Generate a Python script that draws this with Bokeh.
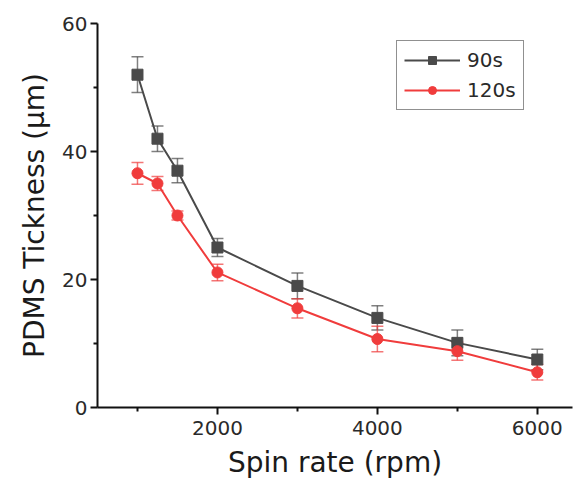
from bokeh.plotting import figure
from bokeh.models import ColumnDataSource, Whisker, TeeHead, Legend, LegendItem, FixedTicker, Range1d
from bokeh.embed import file_html
from bokeh.resources import INLINE

# Spin coating data: film thickness vs spin rate
spin_rate = [1000, 1250, 1500, 2000, 3000, 4000, 5000, 6000]
thick_90s = [52.0, 42.0, 37.0, 25.0, 19.0, 14.0, 10.1, 7.5]
err_90s = [2.8, 2.0, 1.9, 1.4, 2.0, 1.9, 2.0, 1.6]
thick_120s = [36.6, 35.0, 30.0, 21.1, 15.5, 10.7, 8.8, 5.5]
err_120s = [1.7, 1.1, 0.7, 1.3, 1.5, 2.0, 1.4, 1.2]

x_ticks = [2000, 4000, 6000]
x_minor = [1000, 3000, 5000]
y_ticks = [0, 20, 40, 60]
y_minor = [10, 30, 50]

GRAY = "#4a4a4a"
RED = "#f03c3c"
FONT = "DejaVu Sans"
TEXT = "#2a2a2a"

p = figure(width=574, height=484, output_backend="svg", toolbar_location=None,
           x_range=Range1d(500, 6440), y_range=Range1d(0, 60),
           min_border_left=97, min_border_right=2, min_border_top=23, min_border_bottom=77)
p.outline_line_color = None
p.grid.visible = False

src90 = ColumnDataSource(dict(x=spin_rate, y=thick_90s,
                              lo=[v - e for v, e in zip(thick_90s, err_90s)],
                              hi=[v + e for v, e in zip(thick_90s, err_90s)]))
src120 = ColumnDataSource(dict(x=spin_rate, y=thick_120s,
                               lo=[v - e for v, e in zip(thick_120s, err_120s)],
                               hi=[v + e for v, e in zip(thick_120s, err_120s)]))

for src, col in ((src90, GRAY), (src120, RED)):
    w = Whisker(source=src, base="x", lower="lo", upper="hi",
                line_color=col, line_alpha=0.7, line_width=1.5,
                upper_head=TeeHead(size=12, line_color=col, line_alpha=0.7, line_width=1.5),
                lower_head=TeeHead(size=12, line_color=col, line_alpha=0.7, line_width=1.5))
    p.add_layout(w)

l90 = p.line("x", "y", source=src90, line_color=GRAY, line_width=2)
m90 = p.scatter("x", "y", source=src90, marker="square", size=11, fill_color=GRAY, line_color=GRAY)
l120 = p.line("x", "y", source=src120, line_color=RED, line_width=2)
m120 = p.scatter("x", "y", source=src120, marker="circle", size=11, fill_color=RED, line_color=RED)

legend = Legend(items=[LegendItem(label="90s", renderers=[l90, m90]),
                       LegendItem(label="120s", renderers=[l120, m120])],
                location=(299, 297), label_text_font=FONT, label_text_font_size="20px",
                label_text_color=TEXT,
                glyph_width=56, glyph_height=20, spacing=6, padding=7, margin=0,
                border_line_color="#222222", border_line_width=1.2,
                background_fill_alpha=1.0, label_standoff=7)
p.add_layout(legend)

for ax in (p.xaxis[0], p.yaxis[0]):
    ax.axis_line_width = 2
    ax.axis_line_color = "#111111"
    ax.major_tick_line_width = 2
    ax.minor_tick_line_width = 2
    ax.major_tick_line_color = "#111111"
    ax.minor_tick_line_color = "#111111"
    ax.major_tick_out = 7
    ax.major_tick_in = 0
    ax.minor_tick_out = 4
    ax.minor_tick_in = 0
    ax.major_label_text_font = FONT
    ax.major_label_text_font_size = "20px"
    ax.major_label_text_color = TEXT
    ax.axis_label_text_font = FONT
    ax.axis_label_text_font_size = "28px"
    ax.axis_label_text_font_style = "normal"
    ax.axis_label_text_color = "#1a1a1a"

p.xaxis[0].ticker = FixedTicker(ticks=x_ticks, minor_ticks=x_minor)
p.yaxis[0].ticker = FixedTicker(ticks=y_ticks, minor_ticks=y_minor)
p.xaxis[0].axis_label = "Spin rate (rpm)"
p.yaxis[0].axis_label = "PDMS Tickness (μm)"
p.xaxis[0].major_label_standoff = 6
p.yaxis[0].major_label_standoff = 3
p.xaxis[0].axis_label_standoff = 8
p.yaxis[0].axis_label_standoff = 8

open("out.html", "w").write(file_html(p, INLINE))
